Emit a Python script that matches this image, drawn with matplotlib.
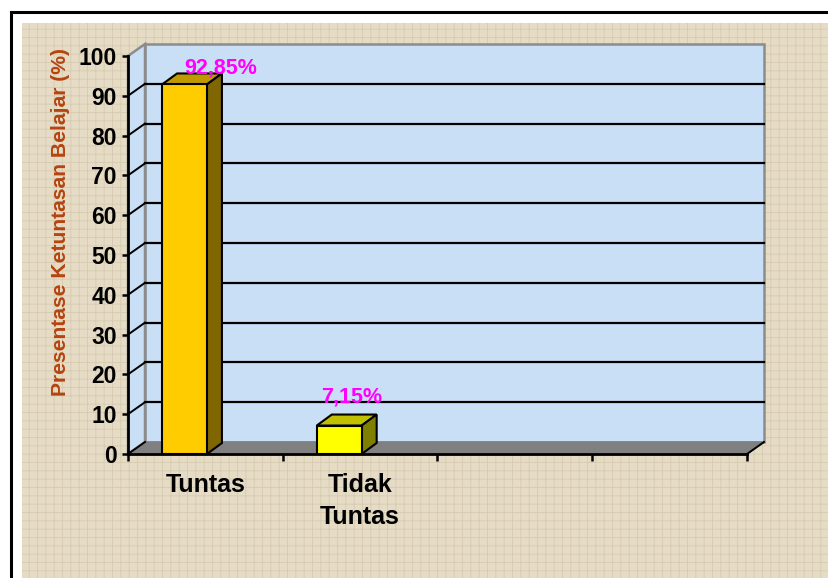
import matplotlib.pyplot as plt
import matplotlib.patches as mpatches
import numpy as np

plt.rcParams['font.family'] = ['Liberation Sans', 'DejaVu Sans']
plt.rcParams['hatch.color'] = '#D5C9B1'
plt.rcParams['hatch.linewidth'] = 0.6

# data
categories = ['Tuntas', 'Tidak\nTuntas']
values = [92.85, 7.15]
value_labels = ['92,85%', '7,15%']
yticks = list(range(0, 101, 10))
n_slots = 4

# colours
face_cols = ['#FFCC00', '#FFFF00']
side_cols = ['#806600', '#808000']
top_cols = ['#C09900', '#C0C000']
label_offsets = [(36, 11), (12, 23)]   # pixels, label vs bar top

W, H = 829, 578
fig = plt.figure(figsize=(W / 100, H / 100), dpi=100)
fig.patch.set_facecolor('white')

# outer frame + beige chart area
fig.add_artist(mpatches.Rectangle((11 / W, -0.1), 1.2, 1.1 - 12 / H, transform=fig.transFigure,
                                  facecolor='white', edgecolor='black', lw=2.2, zorder=-2))
fig.add_artist(mpatches.Rectangle((22 / W, -0.1), 1.2, 1.1 - 23 / H, transform=fig.transFigure,
                                  facecolor='#E6DCC6', edgecolor='#D6CAB0', hatch='++',
                                  lw=0, zorder=-1))

ax_l, ax_r, ax_b, ax_t = 128, 747, 454, 56
ax = fig.add_axes([ax_l / W, (H - ax_b) / H, (ax_r - ax_l) / W, (ax_b - ax_t) / H])
ax.patch.set_visible(False)
ax.set_xlim(0, n_slots)
ax.set_ylim(0, 100)

# 3d depth in data units
px_x = (ax_r - ax_l) / n_slots
px_y = (ax_b - ax_t) / 100
dx, dy = 17 / px_x, 12 / px_y
bdx, bdy = 15 / px_x, 11 / px_y

wall_col = '#C9DFF6'
# back wall
ax.add_patch(mpatches.Rectangle((dx, dy), n_slots, 100, facecolor=wall_col, edgecolor='#8C8C8C',
                                lw=1.8, clip_on=False, zorder=1))
# side wall
ax.add_patch(mpatches.Polygon([(0, 0), (0, 100), (dx, 100 + dy), (dx, dy)], closed=True,
                              facecolor=wall_col, edgecolor='#8C8C8C', lw=1.8, clip_on=False, zorder=1))
# gridlines
for v in yticks[1:-1]:
    ax.plot([dx, n_slots + dx], [v + dy, v + dy], color='black', lw=1.6, clip_on=False, zorder=2)
    ax.plot([0, dx], [v, v + dy], color='black', lw=1.4, clip_on=False, zorder=2)
# floor
ax.add_patch(mpatches.Polygon([(0, 0), (n_slots, 0), (n_slots + dx, dy), (dx, dy)], closed=True,
                              facecolor='#808080', edgecolor='#808080', lw=1, clip_on=False, zorder=2))
ax.plot([0, dx], [0, dy], color='black', lw=1.4, clip_on=False, zorder=2.5)
ax.plot([n_slots, n_slots + dx], [0, dy], color='black', lw=1.4, clip_on=False, zorder=2.5)

# bars
bw = 0.29
xs = np.arange(len(values)) + 0.365
ax.bar(xs, values, width=bw, color=face_cols, edgecolor='black', lw=1.5, zorder=4, clip_on=False)
for i, (x, v) in enumerate(zip(xs, values)):
    x0, x1 = x - bw / 2, x + bw / 2
    ax.add_patch(mpatches.Polygon([(x0, v), (x1, v), (x1 + bdx, v + bdy), (x0 + bdx, v + bdy)],
                                  closed=True, facecolor=top_cols[i], edgecolor='black', lw=1.5,
                                  clip_on=False, zorder=3.5))
    ax.add_patch(mpatches.Polygon([(x1, 0), (x1, v), (x1 + bdx, v + bdy), (x1 + bdx, bdy)],
                                  closed=True, facecolor=side_cols[i], edgecolor='black', lw=1.5,
                                  clip_on=False, zorder=3.5))
    ax.annotate(value_labels[i], (x, v), xytext=label_offsets[i], textcoords='offset pixels',
                ha='center', va='baseline', color='#FF00FF', fontsize=15.5, fontweight='bold',
                zorder=6, annotation_clip=False)

# axes styling
for s in ['top', 'right']:
    ax.spines[s].set_visible(False)
for s in ['left', 'bottom']:
    ax.spines[s].set_linewidth(2)
    ax.spines[s].set_zorder(5)
ax.set_yticks(yticks)
ax.set_yticklabels([str(t) for t in yticks], fontsize=16.5, fontweight='bold')
ax.tick_params(axis='y', direction='out', length=4, width=1.8, pad=4)
ax.set_xticks(range(n_slots + 1))
ax.set_xticklabels([])
ax.tick_params(axis='x', which='major', direction='out', length=5, width=1.8)
ax.set_xticks(np.arange(len(categories)) + 0.5, minor=True)
ax.set_xticklabels(categories, minor=True, fontsize=18, fontweight='bold', linespacing=1.4)
ax.tick_params(axis='x', which='minor', length=0, pad=14)

ax.set_ylabel('Presentase Ketuntasan Belajar (%)', fontsize=15.2, fontweight='bold', color='#B5440F')
ax.yaxis.set_label_coords(-0.094, 0.583)

fig.savefig('out.png', dpi=100)
